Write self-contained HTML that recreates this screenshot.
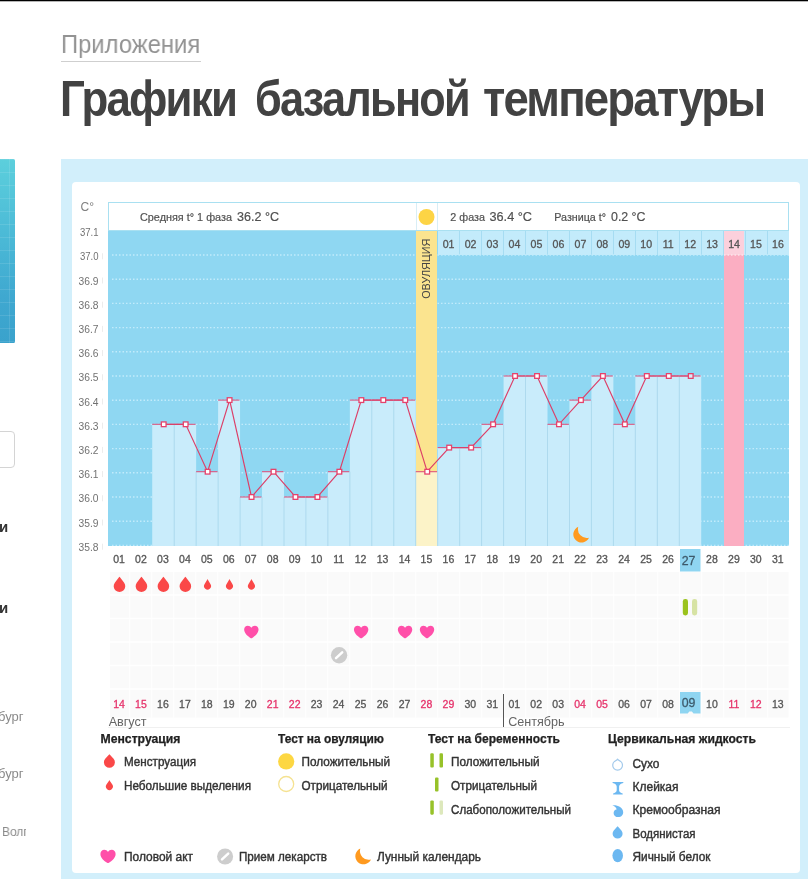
<!DOCTYPE html>
<html lang="ru"><head><meta charset="utf-8"><title>Графики базальной температуры</title>
<style>
html,body{margin:0;padding:0;background:#fff}
body{width:808px;height:888px;overflow:hidden;position:relative;font-family:"Liberation Sans",sans-serif}
.topline{position:absolute;left:0;top:0;width:808px;height:1px;background:#000}
.topline2{position:absolute;left:0;top:1px;width:808px;height:1px;background:#b5b5b5}
.crumb{will-change:transform;position:absolute;left:60.5px;top:29.8px;font-size:25.4px;line-height:29px;color:#939393;white-space:nowrap;transform-origin:0 0;transform:scaleX(.9375);border-bottom:1px solid #cfcfcf;padding-bottom:2px}
h1{will-change:transform;position:absolute;left:0;top:70.6px;margin:0;width:808px;height:56px;font-size:49.5px;line-height:56px;font-weight:bold;color:#424242;white-space:nowrap}
h1 span{position:absolute;top:0;transform-origin:0 0;display:block;letter-spacing:-2px}
.panel{position:absolute;left:61px;top:159px;width:760px;height:720px;background:#d2effb}
.card{position:absolute;left:72px;top:182px;width:728px;height:690.5px;background:#fff;border-radius:4px}
.chart{position:absolute;left:0;top:0;will-change:transform}
.chart text{stroke-linejoin:round}
.dg{stroke:#555;stroke-width:.3px}
.dr{stroke:#e6336b;stroke-width:.3px}
.lg{stroke:#333;stroke-width:.4px}
.lb{stroke:#222;stroke-width:.25px}
.thumb{position:absolute;left:-2px;top:159px;width:16.8px;height:183.7px;border-radius:1.5px;background:linear-gradient(90deg,transparent 0,transparent 11px,rgba(255,255,255,.10) 11px,rgba(255,255,255,.10) 12px,transparent 12px),repeating-linear-gradient(180deg,rgba(255,255,255,.10) 0,rgba(255,255,255,.10) 1px,transparent 1px,transparent 13px),linear-gradient(180deg,#5ccfdc 0%,#4ab8d6 45%,#3fa8d0 75%,#3aa2cc 100%)}
.inp{position:absolute;left:-10px;top:431px;width:23px;height:35px;border:1px solid #d4d4d4;border-radius:4px;background:#fff}
.sb{will-change:transform;position:absolute;left:0;white-space:nowrap;color:#333;font-weight:bold;font-size:15px;line-height:18px}
.sg{will-change:transform;position:absolute;white-space:nowrap;color:#8a8a8a;font-size:13px;line-height:16px}
</style></head><body>
<div class="topline"></div><div class="topline2"></div>
<div class="crumb">Приложения</div>
<h1><span style="left:60.3px;transform:scaleX(.8855)">Графики</span> <span style="left:254.9px;transform:scaleX(.874)">базальной</span> <span style="left:483px;transform:scaleX(.92)">температуры</span></h1>
<div class="thumb"></div>
<div class="inp"></div>
<div class="sb" style="top:518px;left:-1px">и</div>
<div class="sb" style="top:599px;left:-1px">и</div>
<div class="sg" style="top:709px;left:-2px">бург</div>
<div class="sg" style="top:766px;left:-2px">бург</div>
<div class="sg" style="top:824px;left:2px;width:25.6px;overflow:hidden;transform-origin:0 0;transform:scaleX(.92)">Волгоград</div>
<div class="panel"></div>
<div class="card"></div>
<svg class="chart" width="808" height="888" viewBox="0 0 808 888" font-family="Liberation Sans, sans-serif">
<rect x="108" y="231" width="681" height="315" fill="#8fd7f2"/>
<rect x="108.5" y="202.5" width="680" height="28" fill="#fff" stroke="#a9e0f1"/>
<line x1="416.5" y1="203" x2="416.5" y2="230" stroke="#d9eef6"/><line x1="437.5" y1="203" x2="437.5" y2="230" stroke="#d9eef6"/>
<rect x="438" y="231" width="351" height="24" fill="#c3ebfb"/>
<line x1="459.5" y1="231" x2="459.5" y2="255" stroke="#a6dcf2"/>
<line x1="481.5" y1="231" x2="481.5" y2="255" stroke="#a6dcf2"/>
<line x1="503.5" y1="231" x2="503.5" y2="255" stroke="#a6dcf2"/>
<line x1="525.5" y1="231" x2="525.5" y2="255" stroke="#a6dcf2"/>
<line x1="547.5" y1="231" x2="547.5" y2="255" stroke="#a6dcf2"/>
<line x1="569.5" y1="231" x2="569.5" y2="255" stroke="#a6dcf2"/>
<line x1="591.5" y1="231" x2="591.5" y2="255" stroke="#a6dcf2"/>
<line x1="613.5" y1="231" x2="613.5" y2="255" stroke="#a6dcf2"/>
<line x1="635.5" y1="231" x2="635.5" y2="255" stroke="#a6dcf2"/>
<line x1="657.5" y1="231" x2="657.5" y2="255" stroke="#a6dcf2"/>
<line x1="679.5" y1="231" x2="679.5" y2="255" stroke="#a6dcf2"/>
<line x1="701.5" y1="231" x2="701.5" y2="255" stroke="#a6dcf2"/>
<line x1="723.5" y1="231" x2="723.5" y2="255" stroke="#a6dcf2"/>
<line x1="745.5" y1="231" x2="745.5" y2="255" stroke="#a6dcf2"/>
<line x1="767.5" y1="231" x2="767.5" y2="255" stroke="#a6dcf2"/>
<line x1="112" y1="255.0" x2="789" y2="255.0" stroke="#c2ebfb" stroke-width="1.4" stroke-dasharray="1.5 2"/>
<line x1="112" y1="279.2" x2="789" y2="279.2" stroke="#c2ebfb" stroke-width="1.4" stroke-dasharray="1.5 2"/>
<line x1="112" y1="303.4" x2="789" y2="303.4" stroke="#c2ebfb" stroke-width="1.4" stroke-dasharray="1.5 2"/>
<line x1="112" y1="327.6" x2="789" y2="327.6" stroke="#c2ebfb" stroke-width="1.4" stroke-dasharray="1.5 2"/>
<line x1="112" y1="351.8" x2="789" y2="351.8" stroke="#c2ebfb" stroke-width="1.4" stroke-dasharray="1.5 2"/>
<line x1="112" y1="376.0" x2="789" y2="376.0" stroke="#c2ebfb" stroke-width="1.4" stroke-dasharray="1.5 2"/>
<line x1="112" y1="400.2" x2="789" y2="400.2" stroke="#c2ebfb" stroke-width="1.4" stroke-dasharray="1.5 2"/>
<line x1="112" y1="424.4" x2="789" y2="424.4" stroke="#c2ebfb" stroke-width="1.4" stroke-dasharray="1.5 2"/>
<line x1="112" y1="448.6" x2="789" y2="448.6" stroke="#c2ebfb" stroke-width="1.4" stroke-dasharray="1.5 2"/>
<line x1="112" y1="472.8" x2="789" y2="472.8" stroke="#c2ebfb" stroke-width="1.4" stroke-dasharray="1.5 2"/>
<line x1="112" y1="497.0" x2="789" y2="497.0" stroke="#c2ebfb" stroke-width="1.4" stroke-dasharray="1.5 2"/>
<line x1="112" y1="521.2" x2="789" y2="521.2" stroke="#c2ebfb" stroke-width="1.4" stroke-dasharray="1.5 2"/>
<line x1="112" y1="545.4" x2="789" y2="545.4" stroke="#c2ebfb" stroke-width="1.4" stroke-dasharray="1.5 2"/>
<rect x="724" y="231" width="20" height="315" fill="#fbaec2"/>
<rect x="724" y="231" width="20" height="24" fill="#fcd0dc"/>
<line x1="724" y1="255" x2="744" y2="255" stroke="#fde4ea" stroke-width="1.6" stroke-dasharray="1.5 2"/>
<rect x="416" y="231" width="21" height="315" fill="#fbe48f"/>
<rect x="152.22" y="424.3" width="21.96" height="121.7" fill="#c9ecfb"/>
<rect x="174.18" y="424.3" width="21.96" height="121.7" fill="#c9ecfb"/>
<rect x="196.14" y="471.7" width="21.96" height="74.3" fill="#c9ecfb"/>
<rect x="218.10" y="400.1" width="21.96" height="145.9" fill="#c9ecfb"/>
<rect x="240.06" y="497.0" width="21.96" height="49.0" fill="#c9ecfb"/>
<rect x="262.02" y="471.7" width="21.96" height="74.3" fill="#c9ecfb"/>
<rect x="283.98" y="497.0" width="21.96" height="49.0" fill="#c9ecfb"/>
<rect x="305.94" y="497.0" width="21.96" height="49.0" fill="#c9ecfb"/>
<rect x="327.90" y="471.7" width="21.96" height="74.3" fill="#c9ecfb"/>
<rect x="349.86" y="400.1" width="21.96" height="145.9" fill="#c9ecfb"/>
<rect x="371.82" y="400.1" width="21.96" height="145.9" fill="#c9ecfb"/>
<rect x="393.78" y="400.1" width="21.96" height="145.9" fill="#c9ecfb"/>
<rect x="415.74" y="471.7" width="21.96" height="74.3" fill="#fcf3c8"/>
<rect x="437.70" y="447.6" width="21.96" height="98.4" fill="#c9ecfb"/>
<rect x="459.66" y="447.6" width="21.96" height="98.4" fill="#c9ecfb"/>
<rect x="481.62" y="424.3" width="21.96" height="121.7" fill="#c9ecfb"/>
<rect x="503.58" y="376.0" width="21.96" height="170.0" fill="#c9ecfb"/>
<rect x="525.54" y="376.0" width="21.96" height="170.0" fill="#c9ecfb"/>
<rect x="547.50" y="424.3" width="21.96" height="121.7" fill="#c9ecfb"/>
<rect x="569.46" y="400.1" width="21.96" height="145.9" fill="#c9ecfb"/>
<rect x="591.42" y="376.0" width="21.96" height="170.0" fill="#c9ecfb"/>
<rect x="613.38" y="424.3" width="21.96" height="121.7" fill="#c9ecfb"/>
<rect x="635.34" y="376.0" width="21.96" height="170.0" fill="#c9ecfb"/>
<rect x="657.30" y="376.0" width="21.96" height="170.0" fill="#c9ecfb"/>
<rect x="679.26" y="376.0" width="21.96" height="170.0" fill="#c9ecfb"/>
<line x1="174.2" y1="424.3" x2="174.2" y2="546" stroke="#aedaee" stroke-width="1"/>
<line x1="196.1" y1="471.7" x2="196.1" y2="546" stroke="#aedaee" stroke-width="1"/>
<line x1="218.1" y1="471.7" x2="218.1" y2="546" stroke="#aedaee" stroke-width="1"/>
<line x1="240.1" y1="497.0" x2="240.1" y2="546" stroke="#aedaee" stroke-width="1"/>
<line x1="262.0" y1="497.0" x2="262.0" y2="546" stroke="#aedaee" stroke-width="1"/>
<line x1="284.0" y1="497.0" x2="284.0" y2="546" stroke="#aedaee" stroke-width="1"/>
<line x1="305.9" y1="497.0" x2="305.9" y2="546" stroke="#aedaee" stroke-width="1"/>
<line x1="327.9" y1="497.0" x2="327.9" y2="546" stroke="#aedaee" stroke-width="1"/>
<line x1="349.9" y1="471.7" x2="349.9" y2="546" stroke="#aedaee" stroke-width="1"/>
<line x1="371.8" y1="400.1" x2="371.8" y2="546" stroke="#aedaee" stroke-width="1"/>
<line x1="393.8" y1="400.1" x2="393.8" y2="546" stroke="#aedaee" stroke-width="1"/>
<line x1="415.7" y1="471.7" x2="415.7" y2="546" stroke="#aedaee" stroke-width="1"/>
<line x1="437.7" y1="471.7" x2="437.7" y2="546" stroke="#aedaee" stroke-width="1"/>
<line x1="459.7" y1="447.6" x2="459.7" y2="546" stroke="#aedaee" stroke-width="1"/>
<line x1="481.6" y1="447.6" x2="481.6" y2="546" stroke="#aedaee" stroke-width="1"/>
<line x1="503.6" y1="424.3" x2="503.6" y2="546" stroke="#aedaee" stroke-width="1"/>
<line x1="525.5" y1="376.0" x2="525.5" y2="546" stroke="#aedaee" stroke-width="1"/>
<line x1="547.5" y1="424.3" x2="547.5" y2="546" stroke="#aedaee" stroke-width="1"/>
<line x1="569.5" y1="424.3" x2="569.5" y2="546" stroke="#aedaee" stroke-width="1"/>
<line x1="591.4" y1="400.1" x2="591.4" y2="546" stroke="#aedaee" stroke-width="1"/>
<line x1="613.4" y1="424.3" x2="613.4" y2="546" stroke="#aedaee" stroke-width="1"/>
<line x1="635.3" y1="424.3" x2="635.3" y2="546" stroke="#aedaee" stroke-width="1"/>
<line x1="657.3" y1="376.0" x2="657.3" y2="546" stroke="#aedaee" stroke-width="1"/>
<line x1="679.3" y1="376.0" x2="679.3" y2="546" stroke="#aedaee" stroke-width="1"/>
<line x1="152.22" y1="424.3" x2="173.58" y2="424.3" stroke="#dd4f7a" stroke-width="1.05"/>
<line x1="174.18" y1="424.3" x2="195.54" y2="424.3" stroke="#dd4f7a" stroke-width="1.05"/>
<line x1="196.14" y1="471.7" x2="217.50" y2="471.7" stroke="#dd4f7a" stroke-width="1.05"/>
<line x1="218.10" y1="400.1" x2="239.46" y2="400.1" stroke="#dd4f7a" stroke-width="1.05"/>
<line x1="240.06" y1="497.0" x2="261.42" y2="497.0" stroke="#dd4f7a" stroke-width="1.05"/>
<line x1="262.02" y1="471.7" x2="283.38" y2="471.7" stroke="#dd4f7a" stroke-width="1.05"/>
<line x1="283.98" y1="497.0" x2="305.34" y2="497.0" stroke="#dd4f7a" stroke-width="1.05"/>
<line x1="305.94" y1="497.0" x2="327.30" y2="497.0" stroke="#dd4f7a" stroke-width="1.05"/>
<line x1="327.90" y1="471.7" x2="349.26" y2="471.7" stroke="#dd4f7a" stroke-width="1.05"/>
<line x1="349.86" y1="400.1" x2="371.22" y2="400.1" stroke="#dd4f7a" stroke-width="1.05"/>
<line x1="371.82" y1="400.1" x2="393.18" y2="400.1" stroke="#dd4f7a" stroke-width="1.05"/>
<line x1="393.78" y1="400.1" x2="415.14" y2="400.1" stroke="#dd4f7a" stroke-width="1.05"/>
<line x1="415.74" y1="471.7" x2="437.10" y2="471.7" stroke="#dd4f7a" stroke-width="1.05"/>
<line x1="437.70" y1="447.6" x2="459.06" y2="447.6" stroke="#dd4f7a" stroke-width="1.05"/>
<line x1="459.66" y1="447.6" x2="481.02" y2="447.6" stroke="#dd4f7a" stroke-width="1.05"/>
<line x1="481.62" y1="424.3" x2="502.98" y2="424.3" stroke="#dd4f7a" stroke-width="1.05"/>
<line x1="503.58" y1="376.0" x2="524.94" y2="376.0" stroke="#dd4f7a" stroke-width="1.05"/>
<line x1="525.54" y1="376.0" x2="546.90" y2="376.0" stroke="#dd4f7a" stroke-width="1.05"/>
<line x1="547.50" y1="424.3" x2="568.86" y2="424.3" stroke="#dd4f7a" stroke-width="1.05"/>
<line x1="569.46" y1="400.1" x2="590.82" y2="400.1" stroke="#dd4f7a" stroke-width="1.05"/>
<line x1="591.42" y1="376.0" x2="612.78" y2="376.0" stroke="#dd4f7a" stroke-width="1.05"/>
<line x1="613.38" y1="424.3" x2="634.74" y2="424.3" stroke="#dd4f7a" stroke-width="1.05"/>
<line x1="635.34" y1="376.0" x2="656.70" y2="376.0" stroke="#dd4f7a" stroke-width="1.05"/>
<line x1="657.30" y1="376.0" x2="678.66" y2="376.0" stroke="#dd4f7a" stroke-width="1.05"/>
<line x1="679.26" y1="376.0" x2="700.62" y2="376.0" stroke="#dd4f7a" stroke-width="1.05"/>
<polyline points="163.7,424.3 185.7,424.3 207.6,471.7 229.6,400.1 251.5,497.0 273.5,471.7 295.5,497.0 317.4,497.0 339.4,471.7 361.3,400.1 383.3,400.1 405.3,400.1 427.2,471.7 449.2,447.6 471.1,447.6 493.1,424.3 515.1,376.0 537.0,376.0 559.0,424.3 580.9,400.1 602.9,376.0 624.9,424.3 646.8,376.0 668.8,376.0 690.7,376.0" fill="none" stroke="#dc3f68" stroke-width="1.15"/>
<rect x="161.35" y="421.95" width="4.7" height="4.7" fill="#fff" stroke="#e6426b" stroke-width="1.3"/>
<rect x="183.31" y="421.95" width="4.7" height="4.7" fill="#fff" stroke="#e6426b" stroke-width="1.3"/>
<rect x="205.27" y="469.35" width="4.7" height="4.7" fill="#fff" stroke="#e6426b" stroke-width="1.3"/>
<rect x="227.23" y="397.75" width="4.7" height="4.7" fill="#fff" stroke="#e6426b" stroke-width="1.3"/>
<rect x="249.19" y="494.65" width="4.7" height="4.7" fill="#fff" stroke="#e6426b" stroke-width="1.3"/>
<rect x="271.15" y="469.35" width="4.7" height="4.7" fill="#fff" stroke="#e6426b" stroke-width="1.3"/>
<rect x="293.11" y="494.65" width="4.7" height="4.7" fill="#fff" stroke="#e6426b" stroke-width="1.3"/>
<rect x="315.07" y="494.65" width="4.7" height="4.7" fill="#fff" stroke="#e6426b" stroke-width="1.3"/>
<rect x="337.03" y="469.35" width="4.7" height="4.7" fill="#fff" stroke="#e6426b" stroke-width="1.3"/>
<rect x="358.99" y="397.75" width="4.7" height="4.7" fill="#fff" stroke="#e6426b" stroke-width="1.3"/>
<rect x="380.95" y="397.75" width="4.7" height="4.7" fill="#fff" stroke="#e6426b" stroke-width="1.3"/>
<rect x="402.91" y="397.75" width="4.7" height="4.7" fill="#fff" stroke="#e6426b" stroke-width="1.3"/>
<rect x="424.87" y="469.35" width="4.7" height="4.7" fill="#fff" stroke="#e6426b" stroke-width="1.3"/>
<rect x="446.83" y="445.25" width="4.7" height="4.7" fill="#fff" stroke="#e6426b" stroke-width="1.3"/>
<rect x="468.79" y="445.25" width="4.7" height="4.7" fill="#fff" stroke="#e6426b" stroke-width="1.3"/>
<rect x="490.75" y="421.95" width="4.7" height="4.7" fill="#fff" stroke="#e6426b" stroke-width="1.3"/>
<rect x="512.71" y="373.65" width="4.7" height="4.7" fill="#fff" stroke="#e6426b" stroke-width="1.3"/>
<rect x="534.67" y="373.65" width="4.7" height="4.7" fill="#fff" stroke="#e6426b" stroke-width="1.3"/>
<rect x="556.63" y="421.95" width="4.7" height="4.7" fill="#fff" stroke="#e6426b" stroke-width="1.3"/>
<rect x="578.59" y="397.75" width="4.7" height="4.7" fill="#fff" stroke="#e6426b" stroke-width="1.3"/>
<rect x="600.55" y="373.65" width="4.7" height="4.7" fill="#fff" stroke="#e6426b" stroke-width="1.3"/>
<rect x="622.51" y="421.95" width="4.7" height="4.7" fill="#fff" stroke="#e6426b" stroke-width="1.3"/>
<rect x="644.47" y="373.65" width="4.7" height="4.7" fill="#fff" stroke="#e6426b" stroke-width="1.3"/>
<rect x="666.43" y="373.65" width="4.7" height="4.7" fill="#fff" stroke="#e6426b" stroke-width="1.3"/>
<rect x="688.39" y="373.65" width="4.7" height="4.7" fill="#d6effa" stroke="#e6426b" stroke-width="1.3"/>
<circle cx="426.5" cy="217" r="8" fill="#fdd445"/>
<text transform="translate(430.0,298.8) rotate(-90)" font-size="11.5" fill="#444" textLength="60" lengthAdjust="spacingAndGlyphs">ОВУЛЯЦИЯ</text>
<path d="M578.30 526.80 A8.2 8.2 0 1 0 589.00 537.70 A8.8 8.8 0 0 1 578.30 526.80 Z" fill="#ff9a1f"/>
<text x="140.0" y="221" font-size="11" fill="#505050" stroke="#505050" stroke-width=".2" textLength="92.0" lengthAdjust="spacingAndGlyphs">Средняя t° 1 фаза</text>
<text x="237.0" y="221" font-size="13" fill="#505050" stroke="#505050" stroke-width=".2" textLength="42.0" lengthAdjust="spacingAndGlyphs">36.2 °C</text>
<text x="450.3" y="221" font-size="11" fill="#505050" stroke="#505050" stroke-width=".2" textLength="34.7" lengthAdjust="spacingAndGlyphs">2 фаза</text>
<text x="489.5" y="221" font-size="13" fill="#505050" stroke="#505050" stroke-width=".2" textLength="42.5" lengthAdjust="spacingAndGlyphs">36.4 °C</text>
<text x="554.3" y="221" font-size="11" fill="#505050" stroke="#505050" stroke-width=".2" textLength="51.7" lengthAdjust="spacingAndGlyphs">Разница t°</text>
<text x="611.0" y="221" font-size="13" fill="#505050" stroke="#505050" stroke-width=".2" textLength="34.5" lengthAdjust="spacingAndGlyphs">0.2 °C</text>
<text class="dg" x="448.6" y="247.8" font-size="10.6" fill="#555" text-anchor="middle">01</text>
<text class="dg" x="470.6" y="247.8" font-size="10.6" fill="#555" text-anchor="middle">02</text>
<text class="dg" x="492.5" y="247.8" font-size="10.6" fill="#555" text-anchor="middle">03</text>
<text class="dg" x="514.5" y="247.8" font-size="10.6" fill="#555" text-anchor="middle">04</text>
<text class="dg" x="536.4" y="247.8" font-size="10.6" fill="#555" text-anchor="middle">05</text>
<text class="dg" x="558.4" y="247.8" font-size="10.6" fill="#555" text-anchor="middle">06</text>
<text class="dg" x="580.4" y="247.8" font-size="10.6" fill="#555" text-anchor="middle">07</text>
<text class="dg" x="602.3" y="247.8" font-size="10.6" fill="#555" text-anchor="middle">08</text>
<text class="dg" x="624.3" y="247.8" font-size="10.6" fill="#555" text-anchor="middle">09</text>
<text class="dg" x="646.2" y="247.8" font-size="10.6" fill="#555" text-anchor="middle">10</text>
<text class="dg" x="668.2" y="247.8" font-size="10.6" fill="#555" text-anchor="middle">11</text>
<text class="dg" x="690.2" y="247.8" font-size="10.6" fill="#555" text-anchor="middle">12</text>
<text class="dg" x="712.1" y="247.8" font-size="10.6" fill="#555" text-anchor="middle">13</text>
<text class="dg" x="734.1" y="247.8" font-size="10.6" fill="#555" text-anchor="middle">14</text>
<text class="dg" x="756.0" y="247.8" font-size="10.6" fill="#555" text-anchor="middle">15</text>
<text class="dg" x="778.0" y="247.8" font-size="10.6" fill="#555" text-anchor="middle">16</text>
<text x="80.5" y="210.8" font-size="13.5" fill="#808080" textLength="13.5" lengthAdjust="spacingAndGlyphs">C°</text>
<text x="98.5" y="236.0" font-size="11" fill="#727272" text-anchor="end" textLength="18.6" lengthAdjust="spacingAndGlyphs">37.1</text>
<text x="98.5" y="260.3" font-size="11" fill="#727272" text-anchor="end" textLength="18.6" lengthAdjust="spacingAndGlyphs">37.0</text>
<line x1="102.5" y1="253.3" x2="102.5" y2="259.3" stroke="#ececec"/>
<text x="98.5" y="284.5" font-size="11" fill="#727272" text-anchor="end" textLength="20" lengthAdjust="spacingAndGlyphs">36.9</text>
<line x1="102.5" y1="277.5" x2="102.5" y2="283.5" stroke="#ececec"/>
<text x="98.5" y="308.7" font-size="11" fill="#727272" text-anchor="end" textLength="20" lengthAdjust="spacingAndGlyphs">36.8</text>
<line x1="102.5" y1="301.7" x2="102.5" y2="307.7" stroke="#ececec"/>
<text x="98.5" y="332.9" font-size="11" fill="#727272" text-anchor="end" textLength="20" lengthAdjust="spacingAndGlyphs">36.7</text>
<line x1="102.5" y1="325.9" x2="102.5" y2="331.9" stroke="#ececec"/>
<text x="98.5" y="357.1" font-size="11" fill="#727272" text-anchor="end" textLength="20" lengthAdjust="spacingAndGlyphs">36.6</text>
<line x1="102.5" y1="350.1" x2="102.5" y2="356.1" stroke="#ececec"/>
<text x="98.5" y="381.3" font-size="11" fill="#727272" text-anchor="end" textLength="20" lengthAdjust="spacingAndGlyphs">36.5</text>
<line x1="102.5" y1="374.3" x2="102.5" y2="380.3" stroke="#ececec"/>
<text x="98.5" y="405.5" font-size="11" fill="#727272" text-anchor="end" textLength="20" lengthAdjust="spacingAndGlyphs">36.4</text>
<line x1="102.5" y1="398.5" x2="102.5" y2="404.5" stroke="#ececec"/>
<text x="98.5" y="429.7" font-size="11" fill="#727272" text-anchor="end" textLength="20" lengthAdjust="spacingAndGlyphs">36.3</text>
<line x1="102.5" y1="422.7" x2="102.5" y2="428.7" stroke="#ececec"/>
<text x="98.5" y="453.9" font-size="11" fill="#727272" text-anchor="end" textLength="20" lengthAdjust="spacingAndGlyphs">36.2</text>
<line x1="102.5" y1="446.9" x2="102.5" y2="452.9" stroke="#ececec"/>
<text x="98.5" y="478.1" font-size="11" fill="#727272" text-anchor="end" textLength="20" lengthAdjust="spacingAndGlyphs">36.1</text>
<line x1="102.5" y1="471.1" x2="102.5" y2="477.1" stroke="#ececec"/>
<text x="98.5" y="502.3" font-size="11" fill="#727272" text-anchor="end" textLength="20" lengthAdjust="spacingAndGlyphs">36.0</text>
<line x1="102.5" y1="495.3" x2="102.5" y2="501.3" stroke="#ececec"/>
<text x="98.5" y="526.5" font-size="11" fill="#727272" text-anchor="end" textLength="20" lengthAdjust="spacingAndGlyphs">35.9</text>
<line x1="102.5" y1="519.5" x2="102.5" y2="525.5" stroke="#ececec"/>
<text x="98.5" y="550.7" font-size="11" fill="#727272" text-anchor="end" textLength="20" lengthAdjust="spacingAndGlyphs">35.8</text>
<line x1="102.5" y1="543.7" x2="102.5" y2="549.7" stroke="#ececec"/>
<rect x="110" y="572" width="678.5" height="145.5" fill="#fafafa"/>
<line x1="129.8" y1="572" x2="129.8" y2="718" stroke="#fff"/>
<line x1="151.8" y1="572" x2="151.8" y2="718" stroke="#fff"/>
<line x1="173.8" y1="572" x2="173.8" y2="718" stroke="#fff"/>
<line x1="195.8" y1="572" x2="195.8" y2="718" stroke="#fff"/>
<line x1="217.8" y1="572" x2="217.8" y2="718" stroke="#fff"/>
<line x1="239.8" y1="572" x2="239.8" y2="718" stroke="#fff"/>
<line x1="261.8" y1="572" x2="261.8" y2="718" stroke="#fff"/>
<line x1="283.8" y1="572" x2="283.8" y2="718" stroke="#fff"/>
<line x1="305.8" y1="572" x2="305.8" y2="718" stroke="#fff"/>
<line x1="327.8" y1="572" x2="327.8" y2="718" stroke="#fff"/>
<line x1="349.8" y1="572" x2="349.8" y2="718" stroke="#fff"/>
<line x1="371.8" y1="572" x2="371.8" y2="718" stroke="#fff"/>
<line x1="393.8" y1="572" x2="393.8" y2="718" stroke="#fff"/>
<line x1="415.8" y1="572" x2="415.8" y2="718" stroke="#fff"/>
<line x1="437.8" y1="572" x2="437.8" y2="718" stroke="#fff"/>
<line x1="459.8" y1="572" x2="459.8" y2="718" stroke="#fff"/>
<line x1="481.8" y1="572" x2="481.8" y2="718" stroke="#fff"/>
<line x1="503.8" y1="572" x2="503.8" y2="718" stroke="#fff"/>
<line x1="525.8" y1="572" x2="525.8" y2="718" stroke="#fff"/>
<line x1="547.8" y1="572" x2="547.8" y2="718" stroke="#fff"/>
<line x1="569.8" y1="572" x2="569.8" y2="718" stroke="#fff"/>
<line x1="591.8" y1="572" x2="591.8" y2="718" stroke="#fff"/>
<line x1="613.8" y1="572" x2="613.8" y2="718" stroke="#fff"/>
<line x1="635.8" y1="572" x2="635.8" y2="718" stroke="#fff"/>
<line x1="657.8" y1="572" x2="657.8" y2="718" stroke="#fff"/>
<line x1="679.8" y1="572" x2="679.8" y2="718" stroke="#fff"/>
<line x1="701.8" y1="572" x2="701.8" y2="718" stroke="#fff"/>
<line x1="723.8" y1="572" x2="723.8" y2="718" stroke="#fff"/>
<line x1="745.8" y1="572" x2="745.8" y2="718" stroke="#fff"/>
<line x1="767.8" y1="572" x2="767.8" y2="718" stroke="#fff"/>
<line x1="789.8" y1="572" x2="789.8" y2="718" stroke="#fff"/>
<line x1="110" y1="595.0" x2="790" y2="595.0" stroke="#fff" stroke-width="1.5"/>
<line x1="110" y1="618.5" x2="790" y2="618.5" stroke="#fff" stroke-width="1.5"/>
<line x1="110" y1="642.0" x2="790" y2="642.0" stroke="#fff" stroke-width="1.5"/>
<line x1="110" y1="665.5" x2="790" y2="665.5" stroke="#fff" stroke-width="1.5"/>
<line x1="110" y1="689.0" x2="790" y2="689.0" stroke="#fff" stroke-width="1.5"/>
<rect x="680" y="549" width="20.5" height="22.5" fill="#8fd5f1"/>
<text class="dg" x="119.0" y="563.3" font-size="10.5" fill="#555" text-anchor="middle">01</text>
<text class="dg" x="140.9" y="563.3" font-size="10.5" fill="#555" text-anchor="middle">02</text>
<text class="dg" x="162.9" y="563.3" font-size="10.5" fill="#555" text-anchor="middle">03</text>
<text class="dg" x="184.9" y="563.3" font-size="10.5" fill="#555" text-anchor="middle">04</text>
<text class="dg" x="206.8" y="563.3" font-size="10.5" fill="#555" text-anchor="middle">05</text>
<text class="dg" x="228.8" y="563.3" font-size="10.5" fill="#555" text-anchor="middle">06</text>
<text class="dg" x="250.7" y="563.3" font-size="10.5" fill="#555" text-anchor="middle">07</text>
<text class="dg" x="272.7" y="563.3" font-size="10.5" fill="#555" text-anchor="middle">08</text>
<text class="dg" x="294.7" y="563.3" font-size="10.5" fill="#555" text-anchor="middle">09</text>
<text class="dg" x="316.6" y="563.3" font-size="10.5" fill="#555" text-anchor="middle">10</text>
<text class="dg" x="338.6" y="563.3" font-size="10.5" fill="#555" text-anchor="middle">11</text>
<text class="dg" x="360.5" y="563.3" font-size="10.5" fill="#555" text-anchor="middle">12</text>
<text class="dg" x="382.5" y="563.3" font-size="10.5" fill="#555" text-anchor="middle">13</text>
<text class="dg" x="404.5" y="563.3" font-size="10.5" fill="#555" text-anchor="middle">14</text>
<text class="dg" x="426.4" y="563.3" font-size="10.5" fill="#555" text-anchor="middle">15</text>
<text class="dg" x="448.4" y="563.3" font-size="10.5" fill="#555" text-anchor="middle">16</text>
<text class="dg" x="470.3" y="563.3" font-size="10.5" fill="#555" text-anchor="middle">17</text>
<text class="dg" x="492.3" y="563.3" font-size="10.5" fill="#555" text-anchor="middle">18</text>
<text class="dg" x="514.3" y="563.3" font-size="10.5" fill="#555" text-anchor="middle">19</text>
<text class="dg" x="536.2" y="563.3" font-size="10.5" fill="#555" text-anchor="middle">20</text>
<text class="dg" x="558.2" y="563.3" font-size="10.5" fill="#555" text-anchor="middle">21</text>
<text class="dg" x="580.1" y="563.3" font-size="10.5" fill="#555" text-anchor="middle">22</text>
<text class="dg" x="602.1" y="563.3" font-size="10.5" fill="#555" text-anchor="middle">23</text>
<text class="dg" x="624.1" y="563.3" font-size="10.5" fill="#555" text-anchor="middle">24</text>
<text class="dg" x="646.0" y="563.3" font-size="10.5" fill="#555" text-anchor="middle">25</text>
<text class="dg" x="668.0" y="563.3" font-size="10.5" fill="#555" text-anchor="middle">26</text>
<text x="688.6" y="564.6" font-size="12.3" fill="#3d5a6b" stroke="#3d5a6b" stroke-width=".3" text-anchor="middle">27</text>
<text class="dg" x="711.9" y="563.3" font-size="10.5" fill="#555" text-anchor="middle">28</text>
<text class="dg" x="733.9" y="563.3" font-size="10.5" fill="#555" text-anchor="middle">29</text>
<text class="dg" x="755.8" y="563.3" font-size="10.5" fill="#555" text-anchor="middle">30</text>
<text class="dg" x="777.8" y="563.3" font-size="10.5" fill="#555" text-anchor="middle">31</text>
<path d="M680 692h20.5v21.5h-7l-1.6-2h-2.6l-1.6 2h-7.7z" fill="#8fd5f1"/>
<text class="dr" x="119.0" y="707.6" font-size="10.5" fill="#e6336b" text-anchor="middle">14</text>
<text class="dr" x="140.9" y="707.6" font-size="10.5" fill="#e6336b" text-anchor="middle">15</text>
<text class="dg" x="162.9" y="707.6" font-size="10.5" fill="#555" text-anchor="middle">16</text>
<text class="dg" x="184.9" y="707.6" font-size="10.5" fill="#555" text-anchor="middle">17</text>
<text class="dg" x="206.8" y="707.6" font-size="10.5" fill="#555" text-anchor="middle">18</text>
<text class="dg" x="228.8" y="707.6" font-size="10.5" fill="#555" text-anchor="middle">19</text>
<text class="dg" x="250.7" y="707.6" font-size="10.5" fill="#555" text-anchor="middle">20</text>
<text class="dr" x="272.7" y="707.6" font-size="10.5" fill="#e6336b" text-anchor="middle">21</text>
<text class="dr" x="294.7" y="707.6" font-size="10.5" fill="#e6336b" text-anchor="middle">22</text>
<text class="dg" x="316.6" y="707.6" font-size="10.5" fill="#555" text-anchor="middle">23</text>
<text class="dg" x="338.6" y="707.6" font-size="10.5" fill="#555" text-anchor="middle">24</text>
<text class="dg" x="360.5" y="707.6" font-size="10.5" fill="#555" text-anchor="middle">25</text>
<text class="dg" x="382.5" y="707.6" font-size="10.5" fill="#555" text-anchor="middle">26</text>
<text class="dg" x="404.5" y="707.6" font-size="10.5" fill="#555" text-anchor="middle">27</text>
<text class="dr" x="426.4" y="707.6" font-size="10.5" fill="#e6336b" text-anchor="middle">28</text>
<text class="dr" x="448.4" y="707.6" font-size="10.5" fill="#e6336b" text-anchor="middle">29</text>
<text class="dg" x="470.3" y="707.6" font-size="10.5" fill="#555" text-anchor="middle">30</text>
<text class="dg" x="492.3" y="707.6" font-size="10.5" fill="#555" text-anchor="middle">31</text>
<text class="dg" x="514.3" y="707.6" font-size="10.5" fill="#555" text-anchor="middle">01</text>
<text class="dg" x="536.2" y="707.6" font-size="10.5" fill="#555" text-anchor="middle">02</text>
<text class="dg" x="558.2" y="707.6" font-size="10.5" fill="#555" text-anchor="middle">03</text>
<text class="dr" x="580.1" y="707.6" font-size="10.5" fill="#e6336b" text-anchor="middle">04</text>
<text class="dr" x="602.1" y="707.6" font-size="10.5" fill="#e6336b" text-anchor="middle">05</text>
<text class="dg" x="624.1" y="707.6" font-size="10.5" fill="#555" text-anchor="middle">06</text>
<text class="dg" x="646.0" y="707.6" font-size="10.5" fill="#555" text-anchor="middle">07</text>
<text class="dg" x="668.0" y="707.6" font-size="10.5" fill="#555" text-anchor="middle">08</text>
<text x="688.6" y="707.2" font-size="12.3" fill="#3d5a6b" stroke="#3d5a6b" stroke-width=".3" text-anchor="middle">09</text>
<text class="dg" x="711.9" y="707.6" font-size="10.5" fill="#555" text-anchor="middle">10</text>
<text class="dr" x="733.9" y="707.6" font-size="10.5" fill="#e6336b" text-anchor="middle">11</text>
<text class="dr" x="755.8" y="707.6" font-size="10.5" fill="#e6336b" text-anchor="middle">12</text>
<text class="dg" x="777.8" y="707.6" font-size="10.5" fill="#555" text-anchor="middle">13</text>
<line x1="503.5" y1="694" x2="503.5" y2="727.5" stroke="#555"/>
<line x1="108" y1="727.5" x2="790" y2="727.5" stroke="#f0f0f0"/>
<text x="108.7" y="726.2" font-size="12.6" fill="#666">Август</text>
<text x="508.2" y="726.2" font-size="12.6" fill="#666">Сентябрь</text>
<path d="M118.98 577.20 Q119.48 576.10 119.98 577.20 L124.16 582.67 A5.80 5.80 0 1 1 114.80 582.67 L118.98 577.20 Q119.48 576.10 119.48 576.50 Z" fill="#fa4848"/>
<path d="M140.94 577.20 Q141.44 576.10 141.94 577.20 L146.12 582.67 A5.80 5.80 0 1 1 136.76 582.67 L140.94 577.20 Q141.44 576.10 141.44 576.50 Z" fill="#fa4848"/>
<path d="M162.90 577.20 Q163.40 576.10 163.90 577.20 L168.08 582.67 A5.80 5.80 0 1 1 158.72 582.67 L162.90 577.20 Q163.40 576.10 163.40 576.50 Z" fill="#fa4848"/>
<path d="M184.86 577.20 Q185.36 576.10 185.86 577.20 L190.04 582.67 A5.80 5.80 0 1 1 180.68 582.67 L184.86 577.20 Q185.36 576.10 185.36 576.50 Z" fill="#fa4848"/>
<path d="M207.02 579.90 Q207.52 578.80 208.02 579.90 L210.55 584.25 A3.50 3.50 0 1 1 204.49 584.25 L207.02 579.90 Q207.52 578.80 207.52 579.20 Z" fill="#fa4848"/>
<path d="M228.98 579.90 Q229.48 578.80 229.98 579.90 L232.51 584.25 A3.50 3.50 0 1 1 226.45 584.25 L228.98 579.90 Q229.48 578.80 229.48 579.20 Z" fill="#fa4848"/>
<path d="M250.94 579.90 Q251.44 578.80 251.94 579.90 L254.47 584.25 A3.50 3.50 0 1 1 248.41 584.25 L250.94 579.90 Q251.44 578.80 251.44 579.20 Z" fill="#fa4848"/>
<path transform="translate(244.14 625.70) scale(1.000)" d="M7.2 2.1 C6.5 .7 5.1 0 3.7 0 C1.6 0 0 1.7 0 3.9 C0 7.6 3.6 10.4 6.3 12.3 Q7.2 12.9 8.1 12.3 C10.8 10.4 14.4 7.6 14.4 3.9 C14.4 1.7 12.8 0 10.7 0 C9.3 0 7.9 .7 7.2 2.1 Z" fill="#ff4fa9"/>
<path transform="translate(353.94 625.70) scale(1.000)" d="M7.2 2.1 C6.5 .7 5.1 0 3.7 0 C1.6 0 0 1.7 0 3.9 C0 7.6 3.6 10.4 6.3 12.3 Q7.2 12.9 8.1 12.3 C10.8 10.4 14.4 7.6 14.4 3.9 C14.4 1.7 12.8 0 10.7 0 C9.3 0 7.9 .7 7.2 2.1 Z" fill="#ff4fa9"/>
<path transform="translate(397.86 625.70) scale(1.000)" d="M7.2 2.1 C6.5 .7 5.1 0 3.7 0 C1.6 0 0 1.7 0 3.9 C0 7.6 3.6 10.4 6.3 12.3 Q7.2 12.9 8.1 12.3 C10.8 10.4 14.4 7.6 14.4 3.9 C14.4 1.7 12.8 0 10.7 0 C9.3 0 7.9 .7 7.2 2.1 Z" fill="#ff4fa9"/>
<path transform="translate(419.82 625.70) scale(1.000)" d="M7.2 2.1 C6.5 .7 5.1 0 3.7 0 C1.6 0 0 1.7 0 3.9 C0 7.6 3.6 10.4 6.3 12.3 Q7.2 12.9 8.1 12.3 C10.8 10.4 14.4 7.6 14.4 3.9 C14.4 1.7 12.8 0 10.7 0 C9.3 0 7.9 .7 7.2 2.1 Z" fill="#ff4fa9"/>
<g transform="translate(339.1 655.3)"><circle r="8.2" fill="#cdcdcd"/><line x1="-3.1" y1="2.9" x2="3.1" y2="-2.9" stroke="#fff" stroke-width="2.5" stroke-linecap="round"/></g>
<rect x="682.8" y="599" width="5.2" height="16.5" rx="2.4" fill="#9bc31d"/>
<rect x="692" y="599" width="5.2" height="16.5" rx="2.4" fill="#d7e3a4"/>
<text x="100.5" y="743.0" font-size="12" fill="#222" font-weight="bold" class="lb" textLength="80" lengthAdjust="spacingAndGlyphs">Менструация</text>
<text x="278.0" y="743.0" font-size="12" fill="#222" font-weight="bold" class="lb" textLength="106" lengthAdjust="spacingAndGlyphs">Тест на овуляцию</text>
<text x="428.0" y="743.0" font-size="12" fill="#222" font-weight="bold" class="lb" textLength="132" lengthAdjust="spacingAndGlyphs">Тест на беременность</text>
<text x="608.0" y="743.0" font-size="12" fill="#222" font-weight="bold" class="lb" textLength="148" lengthAdjust="spacingAndGlyphs">Цервикальная жидкость</text>
<text x="124.0" y="766.0" font-size="12" fill="#333" class="lg" textLength="72" lengthAdjust="spacingAndGlyphs">Менструация</text>
<text x="124.0" y="790.0" font-size="12" fill="#333" class="lg" textLength="127" lengthAdjust="spacingAndGlyphs">Небольшие выделения</text>
<text x="301.5" y="766.0" font-size="12" fill="#333" class="lg" textLength="88.5" lengthAdjust="spacingAndGlyphs">Положительный</text>
<text x="301.5" y="790.0" font-size="12" fill="#333" class="lg" textLength="86" lengthAdjust="spacingAndGlyphs">Отрицательный</text>
<text x="451.0" y="766.0" font-size="12" fill="#333" class="lg" textLength="88.5" lengthAdjust="spacingAndGlyphs">Положительный</text>
<text x="451.0" y="790.0" font-size="12" fill="#333" class="lg" textLength="86" lengthAdjust="spacingAndGlyphs">Отрицательный</text>
<text x="451.0" y="814.0" font-size="12" fill="#333" class="lg" textLength="120" lengthAdjust="spacingAndGlyphs">Слабоположительный</text>
<text x="632.5" y="767.6" font-size="12" fill="#333" class="lg" textLength="27" lengthAdjust="spacingAndGlyphs">Сухо</text>
<text x="632.5" y="791.0" font-size="12" fill="#333" class="lg" textLength="46" lengthAdjust="spacingAndGlyphs">Клейкая</text>
<text x="632.5" y="814.4" font-size="12" fill="#333" class="lg" textLength="88" lengthAdjust="spacingAndGlyphs">Кремообразная</text>
<text x="632.5" y="837.8" font-size="12" fill="#333" class="lg" textLength="63" lengthAdjust="spacingAndGlyphs">Водянистая</text>
<text x="632.5" y="861.0" font-size="12" fill="#333" class="lg" textLength="78" lengthAdjust="spacingAndGlyphs">Яичный белок</text>
<text x="124.0" y="861.0" font-size="12" fill="#333" class="lg" textLength="69" lengthAdjust="spacingAndGlyphs">Половой акт</text>
<text x="239.0" y="861.0" font-size="12" fill="#333" class="lg" textLength="88" lengthAdjust="spacingAndGlyphs">Прием лекарств</text>
<text x="377.0" y="861.0" font-size="12" fill="#333" class="lg" textLength="104" lengthAdjust="spacingAndGlyphs">Лунный календарь</text>
<path d="M108.90 754.70 Q109.40 753.60 109.90 754.70 L113.59 758.74 A5.50 5.50 0 1 1 105.21 758.74 L108.90 754.70 Q109.40 753.60 109.40 754.00 Z" fill="#fa4848"/>
<path d="M108.90 780.90 Q109.40 779.80 109.90 780.90 L112.35 784.62 A3.50 3.50 0 1 1 106.45 784.62 L108.90 780.90 Q109.40 779.80 109.40 780.20 Z" fill="#fa4848"/>
<circle cx="286.2" cy="761.4" r="8.1" fill="#fdd742"/>
<circle cx="286.2" cy="784" r="7.5" fill="#fff" stroke="#f5e291" stroke-width="1.3"/>
<rect x="430.3" y="753.3" width="3.5" height="14.2" rx="1.1" fill="#97c229"/><rect x="439.5" y="753.3" width="3.5" height="14.2" rx="1.1" fill="#97c229"/>
<rect x="435" y="777.4" width="3.5" height="14.2" rx="1.1" fill="#97c229"/>
<rect x="430.3" y="800.5" width="3.5" height="14.2" rx="1.1" fill="#97c229"/><rect x="439.5" y="800.5" width="3.5" height="14.2" rx="1.1" fill="#dde8bc"/>
<path transform="translate(100.40 849.80) scale(1.056)" d="M7.2 2.1 C6.5 .7 5.1 0 3.7 0 C1.6 0 0 1.7 0 3.9 C0 7.6 3.6 10.4 6.3 12.3 Q7.2 12.9 8.1 12.3 C10.8 10.4 14.4 7.6 14.4 3.9 C14.4 1.7 12.8 0 10.7 0 C9.3 0 7.9 .7 7.2 2.1 Z" fill="#ff4fa9"/>
<g transform="translate(225.1 856.5)"><circle r="8.0" fill="#cdcdcd"/><line x1="-3.1" y1="2.9" x2="3.1" y2="-2.9" stroke="#fff" stroke-width="2.5" stroke-linecap="round"/></g>
<path d="M360.30 848.60 A8.2 8.2 0 1 0 371.00 859.50 A8.8 8.8 0 0 1 360.30 848.60 Z" fill="#ff9a1f"/>
<path d="M617.10 759.80 Q617.60 758.70 618.10 759.80 L620.68 761.39 A4.90 4.90 0 1 1 614.52 761.39 L617.10 759.80 Q617.60 758.70 617.60 759.10 Z" fill="#fff" stroke="#a3caec" stroke-width="1.2"/>
<path d="M612.6 782H623.3V782.9C620.8 783.6 619.3 784.6 619.1 786.4V790.2C619.3 792 620.6 792.9 622.7 793.5V794.5H613.1V793.5C615.2 792.9 616.5 792 616.7 790.2V786.4C616.5 784.6 615.1 783.6 612.6 782.9Z" fill="#6cb8f1"/>
<path d="M612.3 805.3C616.5 804.6 623.2 806.8 623.2 812.2C623.2 815.2 621 817.1 618.3 817.1C615.6 817.1 613.6 815.3 613.6 812.9C613.6 811 614.9 809.6 616.6 809.4C616.4 807.6 614.6 806.2 612.3 805.3Z" fill="#6cb8f1"/>
<path d="M617.10 826.70 Q617.60 825.60 618.10 826.70 L621.44 830.39 A5.00 5.00 0 1 1 613.76 830.39 L617.10 826.70 Q617.60 825.60 617.60 826.00 Z" fill="#6cb8f1"/>
<ellipse cx="617.7" cy="855.6" rx="5.3" ry="6.6" fill="#6cb8f1"/>
</svg>
</body></html>
